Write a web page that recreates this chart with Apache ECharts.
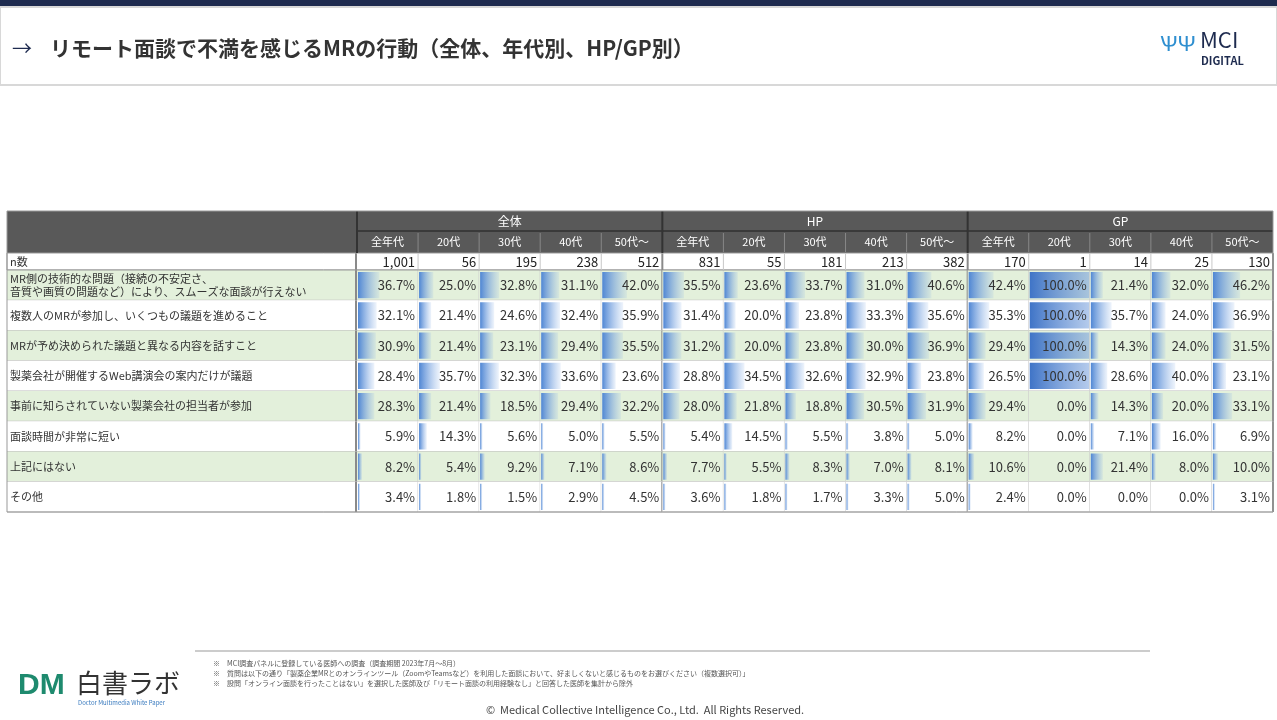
<!DOCTYPE html>
<html>
<head>
<meta charset="utf-8">
<title>リモート面談で不満を感じるMRの行動</title>
<script src="https://cdn.jsdelivr.net/npm/echarts@6/dist/echarts.min.js"></script>
<style>html,body{margin:0;padding:0;background:#fff}</style>
</head>
<body>
<div id="main" style="width:1277px;height:720px;"></div>
<script type="text/javascript">
var chart = echarts.init(document.getElementById('main'));

// データ
var groups = ['全体', 'HP', 'GP'];
var ages = ['全年代', '20代', '30代', '40代', '50代～'];
var nCounts = ['1,001', '56', '195', '238', '512', '831', '55', '181', '213', '382', '170', '1', '14', '25', '130'];
var items = [
  'MR側の技術的な問題（接続の不安定さ、\n音質や画質の問題など）により、スムーズな面談が行えない',
  '複数人のMRが参加し、いくつもの議題を進めること',
  'MRが予め決められた議題と異なる内容を話すこと',
  '製薬会社が開催するWeb講演会の案内だけが議題',
  '事前に知らされていない製薬会社の担当者が参加',
  '面談時間が非常に短い',
  '上記にはない',
  'その他'
];
var rates = [
  [36.7, 25.0, 32.8, 31.1, 42.0, 35.5, 23.6, 33.7, 31.0, 40.6, 42.4, 100.0, 21.4, 32.0, 46.2],
  [32.1, 21.4, 24.6, 32.4, 35.9, 31.4, 20.0, 23.8, 33.3, 35.6, 35.3, 100.0, 35.7, 24.0, 36.9],
  [30.9, 21.4, 23.1, 29.4, 35.5, 31.2, 20.0, 23.8, 30.0, 36.9, 29.4, 100.0, 14.3, 24.0, 31.5],
  [28.4, 35.7, 32.3, 33.6, 23.6, 28.8, 34.5, 32.6, 32.9, 23.8, 26.5, 100.0, 28.6, 40.0, 23.1],
  [28.3, 21.4, 18.5, 29.4, 32.2, 28.0, 21.8, 18.8, 30.5, 31.9, 29.4, 0.0, 14.3, 20.0, 33.1],
  [5.9, 14.3, 5.6, 5.0, 5.5, 5.4, 14.5, 5.5, 3.8, 5.0, 8.2, 0.0, 7.1, 16.0, 6.9],
  [8.2, 5.4, 9.2, 7.1, 8.6, 7.7, 5.5, 8.3, 7.0, 8.1, 10.6, 0.0, 21.4, 8.0, 10.0],
  [3.4, 1.8, 1.5, 2.9, 4.5, 3.6, 1.8, 1.7, 3.3, 5.0, 2.4, 0.0, 0.0, 0.0, 3.1]
];
var notes = [
  '※　MCI調査パネルに登録している医師への調査（調査期間 2023年7月～8月）',
  '※　質問は以下の通り「製薬企業MRとのオンラインツール（ZoomやTeamsなど）を利用した面談において、好ましくないと感じるものをお選びください（複数選択可）」',
  '※　設問「オンライン面談を行ったことはない」を選択した医師及び「リモート面談の利用経験なし」と回答した医師を集計から除外'
];

var cells = [];
rates.forEach(function (row, r) {
  row.forEach(function (v, c) { cells.push([c, r, v]); });
});
var labelCells = items.map(function (t, r) { return [0, r, t]; });
var nCells = nCounts.map(function (t, c) { return [c, -1, t]; });

var GRID_LEFT = 357, TABLE_LEFT = 7;
var green = '#e3f0db';
var font = '"Noto Sans CJK JP", "Noto Sans", sans-serif';

function renderCell(params, api) {
  var c = api.value(0), r = api.value(1), v = api.value(2);
  var p0 = api.coord([c, r - 0.5]);
  var p1 = api.coord([c + 1, r + 0.5]);
  var x = p0[0], y = p0[1], w = p1[0] - p0[0], h = p1[1] - p0[1];
  var bg = r % 2 === 0 ? green : '#ffffff';
  var ch = [{ type: 'rect', shape: { x: x, y: y, width: w, height: h }, style: { fill: bg } }];
  if (v > 0) {
    var bw = w * v / 100;
    ch.push({ type: 'rect', shape: { x: x + 1, y: y + 2, width: Math.max(bw - 1, 2), height: h - 4 },
      style: { fill: new echarts.graphic.LinearGradient(0, 0, 1, 0, [
        { offset: 0, color: v >= 100 ? '#3f74c7' : '#4f86d4' },
        { offset: 1, color: v >= 100 ? 'rgba(120,160,220,0.55)' : 'rgba(140,178,230,0.15)' }]) } });
  }
  ch.push({ type: 'text', style: { x: x + w - 3, y: y + h / 2, text: v.toFixed(1) + '%', align: 'right',
    verticalAlign: 'middle', fontSize: 13, fill: '#333', fontFamily: font } });
  ch.push({ type: 'line', shape: { x1: x + w, y1: y, x2: x + w, y2: y + h },
    style: { stroke: (c % 5 === 4) ? '#8a8a8a' : '#c8c8c8', lineWidth: (c % 5 === 4) ? 2 : 1 } });
  ch.push({ type: 'line', shape: { x1: x, y1: y + h, x2: x + w, y2: y + h }, style: { stroke: '#bbb', lineWidth: 1 } });
  return { type: 'group', children: ch };
}

function renderLabel(params, api) {
  var r = api.value(1);
  var p0 = api.coord([0, r - 0.5]);
  var p1 = api.coord([0, r + 0.5]);
  var y = p0[1], h = p1[1] - p0[1];
  return { type: 'group', children: [
    { type: 'rect', shape: { x: TABLE_LEFT, y: y, width: GRID_LEFT - TABLE_LEFT, height: h },
      style: { fill: r % 2 === 0 ? green : '#fff' } },
    { type: 'line', shape: { x1: TABLE_LEFT, y1: y + h, x2: GRID_LEFT, y2: y + h }, style: { stroke: '#bbb' } },
    { type: 'line', shape: { x1: GRID_LEFT - 1, y1: y, x2: GRID_LEFT - 1, y2: y + h }, style: { stroke: '#8a8a8a', lineWidth: 2 } },
    { type: 'text', style: { x: TABLE_LEFT + 3, y: y + h / 2, text: items[r], verticalAlign: 'middle',
      fontSize: 11, lineHeight: 13, fill: '#333', fontFamily: font } }
  ] };
}

function renderN(params, api) {
  var c = api.value(0);
  var p0 = api.coord([c, -1.05]);
  var p1 = api.coord([c + 1, -0.5]);
  var x = p0[0], y = p0[1], w = p1[0] - p0[0], h = p1[1] - p0[1];
  var ch = [
    { type: 'line', shape: { x1: x + w, y1: y, x2: x + w, y2: y + h },
      style: { stroke: (c % 5 === 4) ? '#8a8a8a' : '#c8c8c8', lineWidth: (c % 5 === 4) ? 2 : 1 } },
    { type: 'text', style: { x: x + w - 3, y: y + h / 2, text: nCounts[c], align: 'right', verticalAlign: 'middle',
      fontSize: 13, fill: '#222', fontFamily: font } }
  ];
  if (c === 0) {
    ch.push({ type: 'text', style: { x: TABLE_LEFT + 3, y: y + h / 2, text: 'n数', verticalAlign: 'middle',
      fontSize: 11, fill: '#333', fontFamily: font } });
    ch.push({ type: 'line', shape: { x1: GRID_LEFT - 1, y1: y, x2: GRID_LEFT - 1, y2: y + h }, style: { stroke: '#8a8a8a', lineWidth: 2 } });
    ch.push({ type: 'line', shape: { x1: TABLE_LEFT, y1: y + h, x2: 1273, y2: y + h }, style: { stroke: '#999' } });
  }
  return { type: 'group', children: ch };
}

var colW = (1273 - GRID_LEFT) / 15;
var headerGraphics = [
  { type: 'rect', shape: { x: 0, y: 0, width: 1277, height: 7 }, style: { fill: '#1e2b4f' } },
  { type: 'rect', shape: { x: 0, y: 7, width: 1277, height: 78 }, style: { fill: '#fff', stroke: '#d8d8d8', lineWidth: 2 } },
  { type: 'text', style: { x: 12, y: 48, text: '→', fontSize: 20, fill: '#1e2b4f', verticalAlign: 'middle', fontFamily: font } },
  { type: 'text', style: { x: 50, y: 48, text: 'リモート面談で不満を感じるMRの行動（全体、年代別、HP/GP別）', fontSize: 21,
    fontWeight: 'bold', fill: '#333', verticalAlign: 'middle', fontFamily: font } },
  { type: 'text', style: { x: 1200, y: 40, text: 'MCI', fontSize: 22, fill: '#1e2b4f', verticalAlign: 'middle', fontFamily: font } },
  { type: 'text', style: { x: 1201, y: 61, text: 'DIGITAL', fontSize: 11, fontWeight: 'bold', fill: '#1e2b4f', verticalAlign: 'middle', fontFamily: font } },
  { type: 'text', style: { x: 1160, y: 45, text: 'ѰΨ', fontSize: 22, fill: '#2f8fd0', verticalAlign: 'middle' } },
  // table header
  { type: 'rect', shape: { x: TABLE_LEFT, y: 211, width: 1273 - TABLE_LEFT, height: 42 }, style: { fill: '#595959' } },
  { type: 'line', shape: { x1: GRID_LEFT, y1: 231, x2: 1273, y2: 231 }, style: { stroke: '#3a3a3a', lineWidth: 2 } },
  { type: 'rect', shape: { x: TABLE_LEFT, y: 253, width: 1273 - TABLE_LEFT, height: 17 }, style: { fill: '#fff', stroke: '#999' } },
  { type: 'rect', shape: { x: TABLE_LEFT, y: 211, width: 1273 - TABLE_LEFT, height: 301 }, style: { fill: 'none', stroke: '#999' }, z: 100 },
  // footer
  { type: 'line', shape: { x1: 195, y1: 651, x2: 1150, y2: 651 }, style: { stroke: '#ccc', lineWidth: 2 } },
  { type: 'text', style: { x: 18, y: 686, text: 'DM', fontSize: 30, fontWeight: 'bold', fill: '#1e8a6e', verticalAlign: 'middle' } },
  { type: 'text', style: { x: 76, y: 683, text: '白書ラボ', fontSize: 26, fill: '#333', verticalAlign: 'middle', fontFamily: font } },
  { type: 'text', style: { x: 78, y: 703, text: 'Doctor Multimedia White Paper', fontSize: 6, fill: '#3a7bbf', verticalAlign: 'middle', fontFamily: font } },
  { type: 'text', style: { x: 645, y: 710, text: '©  Medical Collective Intelligence Co., Ltd.  All Rights Reserved.', fontSize: 11,
    fill: '#444', align: 'center', verticalAlign: 'middle', fontFamily: font } }
];
notes.forEach(function (t, i) {
  headerGraphics.push({ type: 'text', style: { x: 213, y: 663 + i * 10, text: t, fontSize: 7, fill: '#555', verticalAlign: 'middle', fontFamily: font } });
});
groups.forEach(function (g, gi) {
  var gx = GRID_LEFT + gi * 5 * colW;
  headerGraphics.push({ type: 'text', style: { x: gx + 2.5 * colW, y: 221, text: g, fontSize: 12, fill: '#fff',
    align: 'center', verticalAlign: 'middle', fontFamily: font } });
  headerGraphics.push({ type: 'line', shape: { x1: gx, y1: 211, x2: gx, y2: 253 }, style: { stroke: '#333', lineWidth: 2 } });
  ages.forEach(function (a, ai) {
    var ax = gx + ai * colW;
    headerGraphics.push({ type: 'text', style: { x: ax + colW / 2, y: 242, text: a, fontSize: 11, fill: '#fff',
      align: 'center', verticalAlign: 'middle', fontFamily: font } });
    if (ai > 0) headerGraphics.push({ type: 'line', shape: { x1: ax, y1: 233, x2: ax, y2: 252 }, style: { stroke: '#888' } });
  });
});

chart.setOption({
  backgroundColor: '#fff',
  animation: false,
  grid: { left: GRID_LEFT, right: 4, top: 270, height: 242 },
  xAxis: { type: 'value', min: 0, max: 15, show: false },
  yAxis: { type: 'value', min: -0.5, max: 7.5, inverse: true, show: false },
  graphic: headerGraphics,
  series: [
    { type: 'custom', renderItem: renderLabel, data: labelCells, encode: { x: 0, y: 1 }, clip: false },
    { type: 'custom', renderItem: renderCell, data: cells, encode: { x: 0, y: 1 }, clip: false },
    { type: 'custom', renderItem: renderN, data: nCells, encode: { x: 0, y: 1 }, clip: false, z: 5 }
  ]
});
</script>
</body>
</html>
